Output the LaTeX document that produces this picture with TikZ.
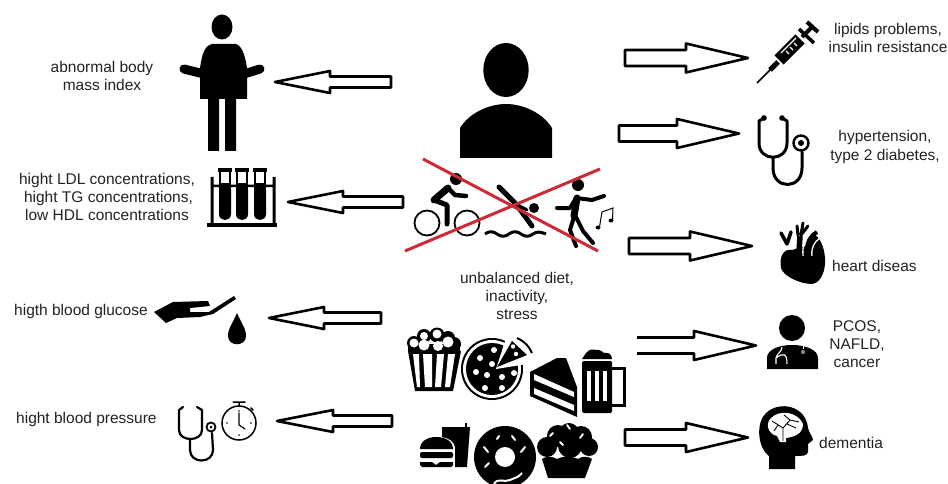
\documentclass[tikz,border=0pt]{standalone}
\usepackage{fontspec}
\setmainfont{Liberation Sans}
\usetikzlibrary{calc}
\definecolor{labelgray}{HTML}{222222}
\definecolor{crossred}{HTML}{CC2A36}
\tikzset{
  labeltext/.style={font=\fontsize{15.5}{18.2}\selectfont, text=labelgray, align=center, inner sep=0pt},
  iconline/.style={line cap=round, line join=round},
  blockline/.style={draw=black, line width=2.6pt, line join=round},
  closedblock/.style n args={3}{to path={
    -- ($(\tikztostart)!#1!90:(\tikztotarget)$)
    -- ($($(\tikztotarget)!#3!(\tikztostart)$)!#1!90:(\tikztotarget)$)
    -- ($($(\tikztotarget)!#3!(\tikztostart)$)!#2!90:(\tikztotarget)$)
    -- (\tikztotarget)
    -- ($($(\tikztotarget)!#3!(\tikztostart)$)!#2!-90:(\tikztotarget)$)
    -- ($($(\tikztotarget)!#3!(\tikztostart)$)!#1!-90:(\tikztotarget)$)
    -- ($(\tikztostart)!#1!-90:(\tikztotarget)$) -- cycle}},
  openblock/.style n args={3}{to path={
    ($(\tikztostart)!#1!90:(\tikztotarget)$)
    -- ($($(\tikztotarget)!#3!(\tikztostart)$)!#1!90:(\tikztotarget)$)
    -- ($($(\tikztotarget)!#3!(\tikztostart)$)!#2!90:(\tikztotarget)$)
    -- (\tikztotarget)
    -- ($($(\tikztotarget)!#3!(\tikztostart)$)!#2!-90:(\tikztotarget)$)
    -- ($($(\tikztotarget)!#3!(\tikztostart)$)!#1!-90:(\tikztotarget)$)
    -- ($(\tikztostart)!#1!-90:(\tikztotarget)$)}}
}

\begin{document}
\begin{tikzpicture}[x=1pt, y=-1pt]
  \useasboundingbox (0,0) rectangle (948,484);

  % block arrows
  \foreach \arrowname/\xa/\xb/\yc/\xl in {bmi/391/275/82/55, ldl/403/288/202/55, glucose/381/269/318/55, pressure/392/277/421/56} {
    \coordinate (\arrowname tail) at (\xa,\yc);
    \coordinate (\arrowname tip) at (\xb,\yc);
    \draw[blockline] (\arrowname tail) to[closedblock={5.5pt}{11pt}{\xl pt}] (\arrowname tip);
  }
  \foreach \arrowname/\xa/\xb/\yc in {lipids/625/748/58, hyper/619/739/133.5, heart/629/752/246, brain/625/748/437.5} {
    \coordinate (\arrowname tail) at (\xa,\yc);
    \coordinate (\arrowname tip) at (\xb,\yc);
    \draw[blockline] (\arrowname tail) to[closedblock={8pt}{14.5pt}{62pt}] (\arrowname tip);
  }
  \coordinate (pcos tail) at (637,345.5);
  \coordinate (pcos tip) at (756,345.5);
  \draw[blockline] (pcos tail) to[openblock={8pt}{14.5pt}{62pt}] (pcos tip);

  % person
  \fill (506,70) ellipse[x radius=22.7, y radius=27];
  \fill (460,158) -- (460,128) .. controls (470,112) and (490,104) .. (506,104) .. controls (522,104) and (542,112) .. (552,128) -- (552,158) -- cycle;

  % cyclist
  \draw[line width=1.8pt] (427,223) circle (12.5) (467,223) circle (12.5);
  \fill (456,179) circle (6);
  \draw[iconline, line width=7pt] (434,200) -- (448,188);
  \draw[iconline, line width=4.5pt] (448,188) -- (455,195) -- (466,196);
  \draw[iconline, line width=5pt] (434,200) -- (447,205) -- (447,224);
  % swimmer
  \fill (534,208) circle (5);
  \draw[iconline, line width=5pt] (499,187) -- (516,204) -- (532,226);
  \draw[iconline, line width=3pt] (516,204) -- (527,210);
  \draw[line width=3pt] (485,234) .. controls (489,231) and (493,231) .. (497,234) .. controls (501,237) and (505,237) .. (509,234) .. controls (513,231) and (517,231) .. (521,234) .. controls (525,237) and (529,237) .. (533,234) .. controls (537,231) and (541,232) .. (546,234);
  % dancer
  \fill (578,185) circle (6);
  \draw[iconline, line width=4pt] (557,208) -- (570,208) -- (576,198) -- (592,200) -- (604,196);
  \draw[iconline, line width=7pt] (577,198) -- (574,216);
  \draw[iconline, line width=4pt] (574,217) -- (570,230) -- (576,246) (576,217) -- (583,231) -- (593,243);
  % music note
  \draw[line width=1pt] (599.5,227) -- (602,212) -- (613,208) -- (612.5,220);
  \fill (598,227.5) ellipse[x radius=2.5, y radius=2] (611,220.5) ellipse[x radius=2.5, y radius=2];
  % red cross
  \draw[crossred, line width=3pt] (423,159) -- (598,251) (405,251) -- (600,169);
  \node[labeltext] (causes) at (517,296) {unbalanced diet,\\inactivity,\\stress};

  % popcorn
  \fill (414,343) circle (7) (424,336) circle (7) (437,335) circle (7.5) (448,338) circle (7) (454,344) circle (7);
  \fill (408,344) rectangle (460,352);
  \fill[white] (414,343) circle (4.5) (424,336) circle (4) (424,345) circle (5.5) (437,334) circle (4.5) (438,346) circle (5) (448,342) circle (5.5);
  \fill (408,351) -- (461,351) -- (453,391) -- (415,391) -- cycle;
  \foreach \ax/\bx/\cx/\dx in {413/419/420/417, 423/432/432/425, 437/444/441/435, 448/455/450/445} {
    \fill[white] (\ax,354) -- (\bx,354) -- (\cx,387) -- (\dx,387) -- cycle;
  }
  % pizza
  \fill (492,369) circle (31);
  \fill[white] (492,369) circle (29);
  \fill (492,369) circle (26);
  \fill[white] (496,369) -- (508,332) -- (540,335) -- (540,362) -- cycle;
  \fill (497,367) -- (512,341) -- (527,355) -- cycle;
  \draw[line width=2pt] (517,338) .. controls (524,341) and (529,346) .. (532,353);
  \foreach \dx/\dy in {494/350, 480/358, 492/364, 476/372, 487/375, 502/377, 514/373, 485/388, 502/388} {
    \fill[white] (\dx,\dy) circle (3);
  }
  \fill[white] (513,346.5) circle (2.2) (516,354) circle (2.2);
  % cake
  \fill (530,372) -- (557,358) -- (566,358) -- (577,387) -- (577,417) -- (530,396) -- cycle;
  \fill[white] (534,374) -- (574,392) -- (574,397) -- (534,380) -- cycle;
  \fill[white] (534,388) -- (574,405) -- (574,411) -- (534,394) -- cycle;
  % beer
  \fill[rounded corners=1.5pt] (582,361) rectangle (612,413);
  \fill (582,359) -- (586,353) .. controls (590,349) and (592,349) .. (596,350) .. controls (598,349) and (602,351) .. (604,353) .. controls (608,352) and (612,354) .. (612,359) -- cycle;
  \draw[line width=3pt] (612,368) -- (624,368) -- (624,405) -- (612,405);
  \foreach \bx in {587,595,603} { \fill[white] (\bx,371) rectangle ++(4,30); }
  % burger and drink
  \fill (442,427) -- (470,427) -- (467,467) -- (455,467) -- (455,447) .. controls (454,441) and (448,438) .. (442,437) -- cycle;
  \draw[line width=1.8pt] (466,427) -- (466,423);
  \fill (420,449) .. controls (420,441) and (428,437) .. (436,437) .. controls (445,437) and (453,441) .. (453,449) -- cycle;
  \fill[rounded corners=2pt] (420,452) rectangle (453,458);
  \fill (420,462) -- (432,462) -- (436,465) -- (440,462) -- (453,462) -- (453,465) -- (451,467) -- (422,467) -- (420,465) -- cycle;
  % donut
  \fill (505,457) circle (31);
  \fill[white] (505,457) circle (10);
  \foreach \ax/\ay/\bx/\by in {497/439/499/436, 512/436/515/440, 484/447/488/452, 525/447/521/452, 485/467/489/463} {
    \draw[white, iconline, line width=2pt] (\ax,\ay) -- (\bx,\by);
  }
  \draw[white, line width=2pt] (494,484) .. controls (498,477) and (504,483) .. (510,480) .. controls (514,478) and (518,478) .. (522,473);
  % muffin
  \fill (547,447) circle (10) (558,436) circle (11) (569,433) circle (10) (581,437) circle (11) (589,447) circle (9) (570,446) circle (12);
  \fill (542,459) .. controls (546,456) and (552,456) .. (557,459) .. controls (562,456) and (572,456) .. (578,459) .. controls (582,456) and (588,456) .. (592,459) -- (585,478) -- (548,478) -- cycle;
  \foreach \ax/\ay/\bx/\by in {550/436/553/433, 567/425/570/429, 580/438/583/434, 560/442/563/445} {
    \draw[white, iconline, line width=1.8pt] (\ax,\ay) -- (\bx,\by);
  }

  % obese figure
  \fill (222,27) ellipse[x radius=10.5, y radius=12.5];
  \fill (200,99) -- (200,68) .. controls (202,55) and (204,46) .. (212,44) -- (236,44) .. controls (242,46) and (245,55) .. (247,68) -- (247,99) -- cycle;
  \draw[iconline, line width=9pt] (184,69) -- (204,74) (244,74) -- (260,69);
  \fill (208,99) rectangle (219,151) (225,99) rectangle (236,151);
  \node[labeltext] (bmitext) at (102,76) {abnormal body\\mass index};

  % test tubes
  \fill (207,223) rectangle (277,227);
  \fill (210.5,177) rectangle (213.5,224) (272.5,177) rectangle (275.5,224) (211,184.5) rectangle (275,187);
  \foreach \tx in {225,242,260} {
    \fill (\tx-6,190) -- (\tx-6,214) .. controls (\tx-6,222) and (\tx+6,222) .. (\tx+6,214) -- (\tx+6,190) -- cycle;
    \draw[line width=1.8pt] (\tx-5,171) -- (\tx-5,190) (\tx+5,171) -- (\tx+5,190);
    \fill (\tx-7,168) rectangle (\tx+7,172);
    \fill (\tx-4.5,183) rectangle (\tx+4.5,190);
  }
  \node[labeltext] (lipidtext) at (107,197) {hight LDL concentrations,\\\hspace*{3pt}hight TG concentrations,\\low HDL concentrations};

  % hand and drop
  \fill (154,312) -- (173,302) -- (208,301) -- (210,306) -- (190,308) -- (190,312) -- (209,312) -- (234,296) -- (236,299) -- (213,314) -- (200,317) -- (177,318) -- (166,323) -- cycle;
  \fill (237,313) .. controls (233,323) and (228,328) .. (228,336) .. controls (228,347) and (246,347) .. (246,336) .. controls (246,328) and (241,323) .. (237,313) -- cycle;
  \node[labeltext, anchor=west] (glucosetext) at (14,311) {higth blood glucose};

  % stethoscope and stopwatch
  \draw[iconline, line width=2.2pt] (183,407) -- (179,410) -- (179,430) .. controls (179,442) and (202,442) .. (202,430) -- (202,410) -- (197,407);
  \draw[iconline, line width=2.2pt] (190,439) -- (190,450) .. controls (190,464) and (213,464) .. (213,450) -- (212,433);
  \draw[line width=1.8pt] (211,427) circle (4.5);
  \fill (211,427) circle (1.5);
  \draw[line width=1.5pt] (239,423) circle (17);
  \draw[iconline, line width=1.5pt] (233,402) -- (245,402) (239,402) -- (239,406) (251,408) -- (253,410);
  \draw[iconline, line width=1.2pt] (239,413) -- (239,425) -- (245,429);
  \foreach \px/\py in {239/411, 239/435, 227/423, 251/423} { \fill (\px,\py) circle (0.9); }
  \node[labeltext, anchor=west] (pressuretext) at (16,419) {hight blood pressure};

  % syringe
  \draw[line width=1.6pt] (757,83) -- (773,67);
  \draw[line width=5pt] (770,70) -- (778,62);
  \draw[line width=13pt] (779,60) -- (800,39);
  \draw[white, line width=1.2pt] (781,53) -- (796,38);
  \draw[white, line width=1.2pt] (786,51) -- (789,54) (790,47) -- (793,50) (794,43) -- (797,46);
  \draw[line width=3.5pt] (799,29) -- (814,43);
  \draw[line width=4pt] (802,37) -- (812,27);
  \draw[line width=4pt] (807,22) -- (818,32);
  \node[labeltext] (lipidstext) at (888,38) {lipids problems,\\insulin resistance};

  % stethoscope
  \draw[iconline, line width=3pt] (764,118) -- (759,121) -- (759,143) .. controls (759,162) and (787,162) .. (787,143) -- (787,121) -- (782,118);
  \draw[iconline, line width=3pt] (773,158) -- (773,168) .. controls (773,190) and (802,190) .. (802,168) -- (802,152);
  \fill (764,118) circle (2.8) (782,118) circle (2.8);
  \draw[line width=2.4pt] (801,143) circle (7.5);
  \fill (801,143) circle (3);
  \node[labeltext] (hypertext) at (885,147) {hypertension,\\type 2 diabetes,};

  % heart
  \fill (792,250) .. controls (783,248) and (779,258) .. (781,268) .. controls (783,276) and (800,284) .. (812,284) .. controls (821,283) and (826,270) .. (825,258) .. controls (824,246) and (820,238) .. (814,234) -- (806,246) -- cycle;
  \draw[line width=5.5pt] (799,252) -- (800,236);
  \draw[iconline, line width=3pt] (798,235) -- (797,226) (801,235) -- (803,223) (801,235) -- (808,226);
  \draw[iconline, line width=3.5pt] (781,233) -- (787,244) -- (791,232);
  \draw[line width=4pt] (807,250) .. controls (807,242) and (811,235) .. (817,232);
  \draw[white, line width=1.3pt] (803,256) .. controls (802,244) and (806,235) .. (814,229) (812,256) .. controls (811,248) and (814,242) .. (820,238);
  \node[labeltext, anchor=west] (hearttext) at (832,266) {heart diseas};

  % doctor
  \fill (792,328) circle (13);
  \fill (767,369) -- (767,358) .. controls (767,350) and (778,345) .. (792,345) .. controls (806,345) and (818,350) .. (818,358) -- (818,369) -- cycle;
  \draw[white, line width=1.1pt] (782,347) .. controls (782,352) and (777,353) .. (776,358) -- (776,364) (776,358) .. controls (784,352) and (787,354) .. (787,364);
  \draw[white, line width=1pt] (803,346) -- (803,349);
  \fill[gray] (803,352) circle (2.2);
  \node[labeltext] (pcostext) at (857,344) {PCOS,\\NAFLD,\\cancer};

  % head with brain
  \fill (769,469) -- (769,456) .. controls (757,447) and (756,422) .. (766,413) .. controls (780,400) and (806,406) .. (808,428) .. controls (809,433) and (813,437) .. (813,440) -- (808,444) -- (808,452) .. controls (807,456) and (803,456) .. (795,456) -- (795,469) -- cycle;
  \fill[white] (771,418) .. controls (780,409) and (798,412) .. (803,424) .. controls (803,434) and (794,437) .. (786,438) -- (786,442) -- (780,442) -- (777,436) .. controls (768,434) and (765,424) .. (771,418) -- cycle;
  \draw[line width=0.9pt] (783,441) -- (783,428) -- (772,421) (783,428) -- (790,420) -- (784,415) (790,420) -- (799,422) (778,425) -- (774,431) (787,424) -- (796,428);
  \node[labeltext, anchor=west] (braintext) at (819,443) {dementia};
\end{tikzpicture}
\end{document}
